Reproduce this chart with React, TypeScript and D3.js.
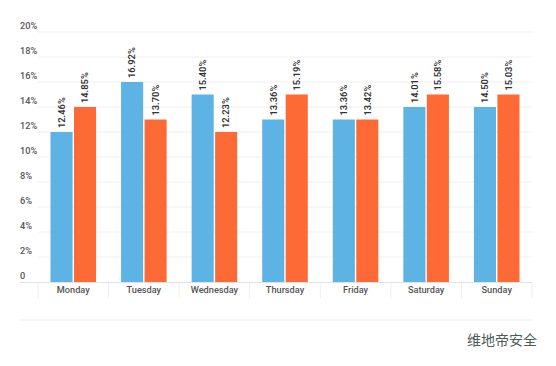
import { FC } from 'react';
import * as d3 from 'd3';

const days = ['Monday', 'Tuesday', 'Wednesday', 'Thursday', 'Friday', 'Saturday', 'Sunday'];
// labels printed above bars
const blueLabels = [12.46, 16.92, 15.4, 13.36, 13.36, 14.01, 14.5];
const orangeLabels = [14.85, 13.7, 12.23, 15.19, 13.42, 15.58, 15.03];
// bar heights as drawn (the original rounds bars down)
const blueBars = [12, 16, 15, 13, 13, 14, 14];
const orangeBars = [14, 13, 12, 15, 13, 15, 15];
const yTicks = [0, 2, 4, 6, 8, 10, 12, 14, 16, 18, 20];

const W = 556;
const H = 366;
const BLUE = '#5cb3e4';
const ORANGE = '#fe6a36';
const FONT = 'Roboto, "Noto Sans", sans-serif';

const App: FC = () => {
  const x = d3.scaleBand<string>().domain(days).range([38, 532]);
  const sub = d3.scaleBand<string>().domain(['a', 'b']).range([12.5, x.bandwidth() - 12.5]).paddingInner(0.06);
  const y = d3.scaleLinear().domain([0, 20]).range([282, 32]);

  const series = [
    { key: 'a', bars: blueBars, labels: blueLabels, color: BLUE },
    { key: 'b', bars: orangeBars, labels: orangeLabels, color: ORANGE },
  ];

  return (
    <svg width={W} height={H} style={{ position: 'absolute', left: 0, top: 0, background: '#fff' }} fontFamily={FONT}>
      {/* grid + y labels */}
      {yTicks.map(t => (
        <g key={t}>
          {t > 0 && <line x1={38} x2={532} y1={y(t)} y2={y(t)} stroke="#f0f0f0" strokeWidth={1} />}
          <text x={20} y={y(t) - 3} fontSize={9.2} fontWeight={500} fill="#555">{t === 0 ? '0' : `${t}%`}</text>
        </g>
      ))}

      {/* bars */}
      {series.map(s =>
        days.map((d, i) => {
          const bx = (x(d) ?? 0) + (sub(s.key) ?? 0);
          const bw = sub.bandwidth();
          const top = y(s.bars[i]);
          return (
            <g key={s.key + d}>
              <rect x={bx} y={top} width={bw} height={y(0) - top} fill={s.color} />
              <text
                transform={`translate(${bx + bw / 2 + 3.3},${top - 4}) rotate(-90)`}
                fontSize={9.3}
                fontWeight={600}
                fill="#333"
              >
                {s.labels[i].toFixed(2)}%
              </text>
            </g>
          );
        })
      )}

      {/* x axis */}
      <line x1={20} x2={532} y1={282.5} y2={282.5} stroke="#e2e2e2" />
      {[...days.map(d => x(d) ?? 0), 532].map((px, i) => (
        <line key={i} x1={px} x2={px} y1={283} y2={298} stroke="#eeeeee" />
      ))}
      {days.map(d => (
        <text key={d} x={(x(d) ?? 0) + x.bandwidth() / 2} y={293} textAnchor="middle" fontSize={9.2} fontWeight={500} fill="#555">
          {d}
        </text>
      ))}
      <line x1={20} x2={532} y1={320} y2={320} stroke="#ececec" />

      {/* watermark */}
      <text x={537} y={345} textAnchor="end" fontSize={14} fill="#4d5b59" fontFamily='"Noto Sans CJK SC", sans-serif'>
        维地帝安全
      </text>
    </svg>
  );
};

export default App;
